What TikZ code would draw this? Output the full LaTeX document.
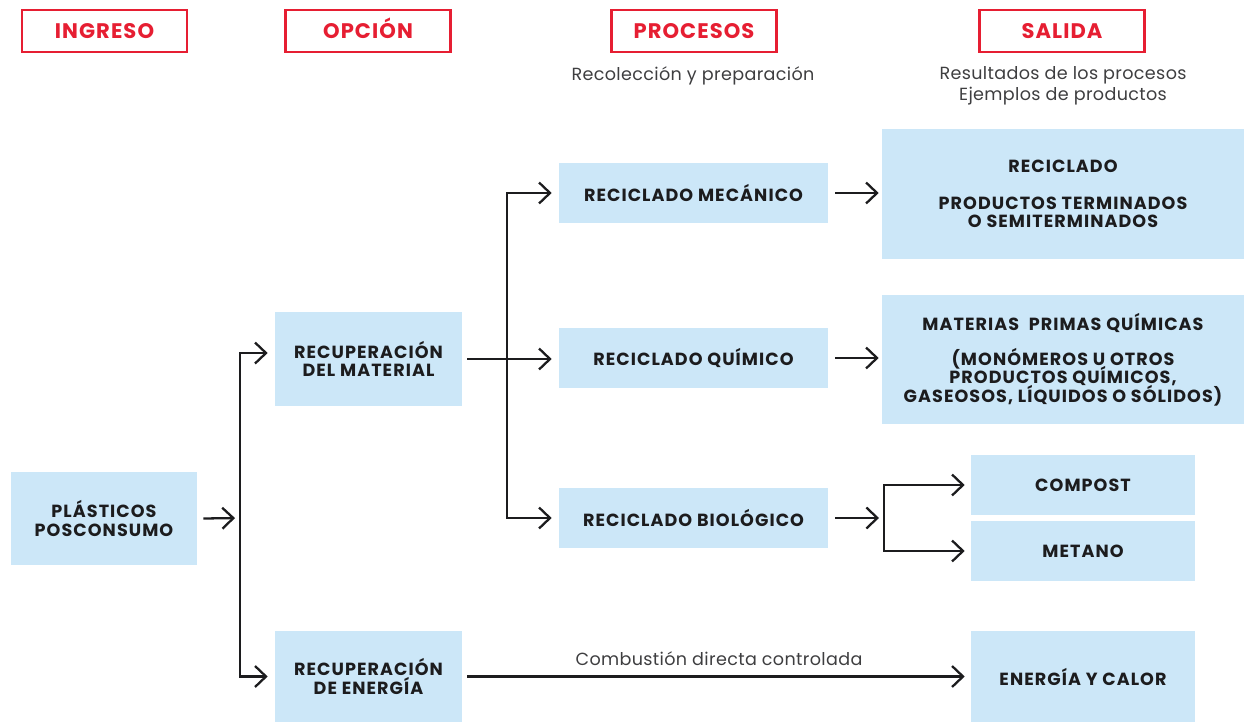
\documentclass[tikz,border=0pt]{standalone}
\usepackage{fontspec}
\setmainfont{Poppins}
\usetikzlibrary{arrows.meta,positioning,calc}
\definecolor{rojo}{RGB}{230,30,50}
\definecolor{celeste}{RGB}{204,231,248}
\definecolor{tinta}{RGB}{28,28,30}
\tikzset{line cap=round,line join=round}
\tikzset{
    header/.style={draw=rojo,line width=1.2pt,text=rojo,font=\bfseries\fontsize{12}{14}\selectfont\addfontfeatures{LetterSpace=5},minimum width=3.3cm,minimum height=0.84cm,inner sep=0pt,text height=8.6pt,text depth=0pt},
    box/.style={fill=celeste,text=tinta,font=\bfseries\fontsize{10}{10.4}\selectfont\addfontfeatures{LetterSpace=6},execute at begin node={\lineskiplimit=-20pt\relax},align=center,inner sep=0pt},
    note/.style={text=tinta!85,font=\fontsize{10}{11.8}\selectfont\addfontfeatures{LetterSpace=2},align=center,inner sep=0pt},
    flow/.style={draw=tinta,line width=1.3pt,-{Straight Barb[length=2.2mm,width=4.2mm,line width=1.3pt]}},
}

\begin{document}
\begin{tikzpicture}[x=0.02cm,y=-0.02cm]
    \useasboundingbox (0,0) rectangle (1250,722);
    \foreach \n/\t/\x in {ingreso/INGRESO/104.5,opcion/OPCIÓN/368,procesos/PROCESOS/694,salida/SALIDA/1062}{%
        \node[name=\n,header] at (\x,31) {\t};
    }
    \node[name=nota1,note] at (693,75.5) {Recolección y preparación};
    \node[name=nota2,note] at (1063,86) {Resultados de los procesos\\Ejemplos de productos};
    % columna de entrada y opciones
    \node[name=plas,box,minimum width=3.72cm,minimum height=1.86cm] at (104,518.5) {PLÁSTICOS\\POSCONSUMO};
    \node[name=recmat,box,minimum width=3.74cm,minimum height=1.88cm] at (368.5,359) {RECUPERACIÓN\\DEL MATERIAL};
    \node[name=recen,box,minimum width=3.74cm,minimum height=1.82cm] at (368.5,676.5) {RECUPERACIÓN\\DE ENERGÍA};
    % procesos
    \foreach \n/\t/\y in {mec/RECICLADO MECÁNICO/193,qui/RECICLADO QUÍMICO/358,bio/RECICLADO BIOLÓGICO/518}{%
        \node[name=\n,box,minimum width=5.38cm,minimum height=1.2cm] at (693.5,\y) {\t};
    }
    % salidas
    \node[name=outrec,box,minimum width=7.24cm,minimum height=2.6cm] at (1063,194) {RECICLADO\\[10.2pt]PRODUCTOS TERMINADOS\\O SEMITERMINADOS};
    \node[name=outmat,box,minimum width=7.24cm,minimum height=2.58cm] at (1063,359.5) {MATERIAS\ \ PRIMAS QUÍMICAS\\[9.6pt](MONÓMEROS U OTROS\\PRODUCTOS QUÍMICOS,\\GASEOSOS, LÍQUIDOS O SÓLIDOS)};
    \node[name=compost,box,minimum width=4.48cm,minimum height=1.2cm] at (1083,485) {COMPOST};
    \node[name=metano,box,minimum width=4.48cm,minimum height=1.2cm] at (1083,551) {METANO};
    \node[name=energia,box,minimum width=4.48cm,minimum height=1.82cm] at (1083,676.5) {ENERGÍA Y CALOR};
    % conectores
    \coordinate (t1) at (240,518);
    \coordinate (t2) at (507,358);
    \coordinate (t3) at (884,518);
    \draw[flow,shorten >=0.1cm] ([xshift=0.12cm]plas.east) -- (t1);
    \draw[flow,shorten >=0.14cm] (t1) |- ([yshift=3.4pt]recmat.west);
    \draw[flow,shorten >=0.14cm] (t1) |- (recen.west);
    \draw[flow,shorten >=0.14cm] ([xshift=0.1cm]recmat.east) -- (qui.west |- recmat.east);
    \foreach \n in {mec,bio}{\draw[flow,shorten >=0.14cm] (t2) |- (\n.west);}
    \draw[flow,shorten >=0.06cm] ([xshift=0.14cm]mec.east) -- (outrec.west |- mec.east);
    \draw[flow,shorten >=0.06cm] ([xshift=0.14cm]qui.east) -- (outmat.west |- qui.east);
    \draw[flow,shorten >=0.1cm] ([xshift=0.14cm]bio.east) -- (t3);
    \foreach \n in {compost,metano}{\draw[flow,shorten >=0.12cm] (t3) |- (\n.west);}
    \draw[flow,shorten >=0.12cm] ([xshift=0.1cm]recen.east) -- node[name=comb,note,above=0.19cm] {Combustión directa controlada} (energia.west);
\end{tikzpicture}
\end{document}
